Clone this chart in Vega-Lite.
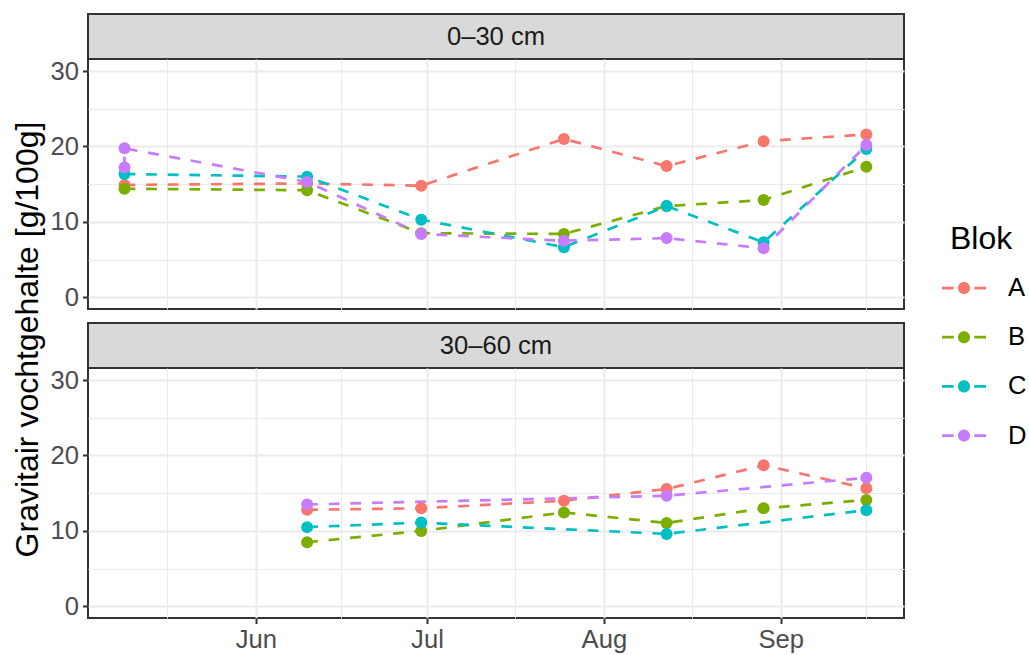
{
  "$schema": "https://vega.github.io/schema/vega-lite/v6.json",
  "background": "white",
  "padding": {"left": 10, "top": 13, "right": 5, "bottom": 0},
  "bounds": "flush",
  "spacing": 0,
  "config": {
    "font": "Liberation Sans",
    "view": {"stroke": "#333333", "strokeWidth": 2},
    "axis": {
      "domain": false,
      "gridColor": "#EBEBEB",
      "tickColor": "#333333",
      "tickWidth": 2,
      "tickSize": 5.5,
      "labelFont": "Liberation Sans",
      "labelFontSize": 25.6,
      "labelColor": "#4D4D4D",
      "labelPadding": 4,
      "titleFont": "Liberation Sans",
      "titleFontSize": 32,
      "titleFontWeight": "normal",
      "titleColor": "#000000"
    },
    "legend": {
      "titleFont": "Liberation Sans",
      "titleFontSize": 32,
      "titleFontWeight": "normal",
      "titleColor": "#000000",
      "labelFont": "Liberation Sans",
      "labelFontSize": 25.6,
      "labelColor": "#000000"
    }
  },
  "datasets": {
    "obs": [
      {"date": "2021-05-09", "depth": "0–30 cm", "blok": "A", "value": 14.9},
      {"date": "2021-06-10", "depth": "0–30 cm", "blok": "A", "value": 15.1},
      {"date": "2021-06-30", "depth": "0–30 cm", "blok": "A", "value": 14.8},
      {"date": "2021-07-25", "depth": "0–30 cm", "blok": "A", "value": 21.0},
      {"date": "2021-08-12", "depth": "0–30 cm", "blok": "A", "value": 17.4},
      {"date": "2021-08-29", "depth": "0–30 cm", "blok": "A", "value": 20.7},
      {"date": "2021-09-16", "depth": "0–30 cm", "blok": "A", "value": 21.6},
      {"date": "2021-05-09", "depth": "0–30 cm", "blok": "B", "value": 14.4},
      {"date": "2021-06-10", "depth": "0–30 cm", "blok": "B", "value": 14.2},
      {"date": "2021-06-30", "depth": "0–30 cm", "blok": "B", "value": 8.5},
      {"date": "2021-07-25", "depth": "0–30 cm", "blok": "B", "value": 8.4},
      {"date": "2021-08-12", "depth": "0–30 cm", "blok": "B", "value": 12.1},
      {"date": "2021-08-29", "depth": "0–30 cm", "blok": "B", "value": 12.9},
      {"date": "2021-09-16", "depth": "0–30 cm", "blok": "B", "value": 17.3},
      {"date": "2021-05-09", "depth": "0–30 cm", "blok": "C", "value": 16.35},
      {"date": "2021-06-10", "depth": "0–30 cm", "blok": "C", "value": 16.0},
      {"date": "2021-06-30", "depth": "0–30 cm", "blok": "C", "value": 10.3},
      {"date": "2021-07-25", "depth": "0–30 cm", "blok": "C", "value": 6.65},
      {"date": "2021-08-12", "depth": "0–30 cm", "blok": "C", "value": 12.1},
      {"date": "2021-08-29", "depth": "0–30 cm", "blok": "C", "value": 7.3},
      {"date": "2021-09-16", "depth": "0–30 cm", "blok": "C", "value": 19.65},
      {"date": "2021-05-09", "depth": "0–30 cm", "blok": "D", "value": 17.2},
      {"date": "2021-05-09", "depth": "0–30 cm", "blok": "D", "value": 19.75},
      {"date": "2021-06-10", "depth": "0–30 cm", "blok": "D", "value": 15.3},
      {"date": "2021-06-30", "depth": "0–30 cm", "blok": "D", "value": 8.4},
      {"date": "2021-07-25", "depth": "0–30 cm", "blok": "D", "value": 7.5},
      {"date": "2021-08-12", "depth": "0–30 cm", "blok": "D", "value": 7.85},
      {"date": "2021-08-29", "depth": "0–30 cm", "blok": "D", "value": 6.5},
      {"date": "2021-09-16", "depth": "0–30 cm", "blok": "D", "value": 20.2},
      {"date": "2021-06-10", "depth": "30–60 cm", "blok": "A", "value": 12.8},
      {"date": "2021-06-30", "depth": "30–60 cm", "blok": "A", "value": 13.0},
      {"date": "2021-07-25", "depth": "30–60 cm", "blok": "A", "value": 14.0},
      {"date": "2021-08-12", "depth": "30–60 cm", "blok": "A", "value": 15.55},
      {"date": "2021-08-29", "depth": "30–60 cm", "blok": "A", "value": 18.7},
      {"date": "2021-09-16", "depth": "30–60 cm", "blok": "A", "value": 15.65},
      {"date": "2021-06-10", "depth": "30–60 cm", "blok": "B", "value": 8.5},
      {"date": "2021-06-30", "depth": "30–60 cm", "blok": "B", "value": 10.0},
      {"date": "2021-07-25", "depth": "30–60 cm", "blok": "B", "value": 12.45},
      {"date": "2021-08-12", "depth": "30–60 cm", "blok": "B", "value": 11.05},
      {"date": "2021-08-29", "depth": "30–60 cm", "blok": "B", "value": 13.0},
      {"date": "2021-09-16", "depth": "30–60 cm", "blok": "B", "value": 14.1},
      {"date": "2021-06-10", "depth": "30–60 cm", "blok": "C", "value": 10.5},
      {"date": "2021-06-30", "depth": "30–60 cm", "blok": "C", "value": 11.1},
      {"date": "2021-08-12", "depth": "30–60 cm", "blok": "C", "value": 9.6},
      {"date": "2021-09-16", "depth": "30–60 cm", "blok": "C", "value": 12.75},
      {"date": "2021-06-10", "depth": "30–60 cm", "blok": "D", "value": 13.5},
      {"date": "2021-08-12", "depth": "30–60 cm", "blok": "D", "value": 14.65},
      {"date": "2021-09-16", "depth": "30–60 cm", "blok": "D", "value": 17.05}
    ]
  },
  "vconcat": [
    {
      "width": 816,
      "height": 45,
      "view": {"fill": "#D9D9D9", "stroke": "#333333", "strokeWidth": 2},
      "data": {"values": [{"depth": "0–30 cm"}]},
      "mark": {"type": "text", "font": "Liberation Sans", "fontSize": 25.6, "color": "#1A1A1A"},
      "encoding": {"text": {"field": "depth", "type": "nominal"}}
    },
    {
      "width": 816,
      "height": 250,
      "data": {"name": "obs"},
      "transform": [{"filter": "datum.depth === '0–30 cm'"}],
      "encoding": {
        "x": {
          "field": "date", "type": "temporal",
          "scale": {"type": "utc", "nice": false, "domain": [
            {"year": 2021, "month": 5, "date": 2, "hours": 14, "minutes": 24, "utc": true},
            {"year": 2021, "month": 9, "date": 22, "hours": 14, "minutes": 24, "utc": true}
          ]},
          "axis": {
            "title": null, "labels": false, "ticks": false,
            "values": [
              {"year": 2021, "month": 5, "date": 16, "hours": 12, "utc": true},
              {"year": 2021, "month": 6, "date": 1, "utc": true},
              {"year": 2021, "month": 6, "date": 16, "utc": true},
              {"year": 2021, "month": 7, "date": 1, "utc": true},
              {"year": 2021, "month": 7, "date": 16, "hours": 12, "utc": true},
              {"year": 2021, "month": 8, "date": 1, "utc": true},
              {"year": 2021, "month": 8, "date": 16, "hours": 12, "utc": true},
              {"year": 2021, "month": 9, "date": 1, "utc": true},
              {"year": 2021, "month": 9, "date": 16, "utc": true}
            ],
            "gridWidth": {"condition": {"test": "utcdate(datum.value) === 1 && utchours(datum.value) === 0", "value": 2}, "value": 1}
          }
        },
        "y": {
          "field": "value", "type": "quantitative",
          "scale": {"domain": [-1.55, 31.6], "nice": false, "zero": false},
          "axis": {
            "title": "Gravitair vochtgehalte [g/100g]",
            "titleY": 280,
            "titlePadding": 6,
            "values": [0, 5, 10, 15, 20, 25, 30],
            "labelExpr": "datum.value % 10 === 0 ? datum.label : ''",
            "tickOpacity": {"condition": {"test": "datum.value % 10 === 0", "value": 1}, "value": 0},
            "gridWidth": {"condition": {"test": "datum.value % 10 === 0", "value": 2}, "value": 1}
          }
        },
        "color": {
          "field": "blok", "type": "nominal",
          "scale": {"domain": ["A", "B", "C", "D"], "range": ["#F8766D", "#7CAE00", "#00BFC4", "#C77CFF"]},
          "legend": {
            "title": "Blok",
            "orient": "none", "legendX": 862, "legendY": 210,
            "symbolType": "M-1.6,-0.1H-0.75V0.1H-1.6Z M0.75,-0.1H1.6V0.1H0.75Z M-0.44,0A0.44,0.44,0,1,0,0.44,0A0.44,0.44,0,1,0,-0.44,0Z",
            "symbolSize": 756,
            "symbolStrokeWidth": 0,
            "symbolOpacity": 1,
            "rowPadding": 21.2,
            "titlePadding": 18,
            "labelOffset": 30
          }
        }
      },
      "layer": [
        {"mark": {"type": "line", "strokeWidth": 2.7, "strokeDash": [10.8, 10.8]}},
        {"mark": {"type": "point", "filled": true, "opacity": 1, "size": 144}}
      ]
    },
    {
      "width": 816,
      "height": 14,
      "view": {"stroke": null, "fill": null},
      "data": {"values": [{"t": ""}]},
      "mark": {"type": "text"},
      "encoding": {"text": {"field": "t", "type": "nominal"}}
    },
    {
      "width": 816,
      "height": 45,
      "view": {"fill": "#D9D9D9", "stroke": "#333333", "strokeWidth": 2},
      "data": {"values": [{"depth": "30–60 cm"}]},
      "mark": {"type": "text", "font": "Liberation Sans", "fontSize": 25.6, "color": "#1A1A1A"},
      "encoding": {"text": {"field": "depth", "type": "nominal"}}
    },
    {
      "width": 816,
      "height": 250,
      "data": {"name": "obs"},
      "transform": [{"filter": "datum.depth === '30–60 cm'"}],
      "encoding": {
        "x": {
          "field": "date", "type": "temporal",
          "scale": {"type": "utc", "nice": false, "domain": [
            {"year": 2021, "month": 5, "date": 2, "hours": 14, "minutes": 24, "utc": true},
            {"year": 2021, "month": 9, "date": 22, "hours": 14, "minutes": 24, "utc": true}
          ]},
          "axis": {
            "title": null,
            "values": [
              {"year": 2021, "month": 5, "date": 16, "hours": 12, "utc": true},
              {"year": 2021, "month": 6, "date": 1, "utc": true},
              {"year": 2021, "month": 6, "date": 16, "utc": true},
              {"year": 2021, "month": 7, "date": 1, "utc": true},
              {"year": 2021, "month": 7, "date": 16, "hours": 12, "utc": true},
              {"year": 2021, "month": 8, "date": 1, "utc": true},
              {"year": 2021, "month": 8, "date": 16, "hours": 12, "utc": true},
              {"year": 2021, "month": 9, "date": 1, "utc": true},
              {"year": 2021, "month": 9, "date": 16, "utc": true}
            ],
            "labelExpr": "utcdate(datum.value) === 1 && utchours(datum.value) === 0 ? utcFormat(datum.value, '%b') : ''",
            "tickOpacity": {"condition": {"test": "utcdate(datum.value) === 1 && utchours(datum.value) === 0", "value": 1}, "value": 0},
            "gridWidth": {"condition": {"test": "utcdate(datum.value) === 1 && utchours(datum.value) === 0", "value": 2}, "value": 1}
          }
        },
        "y": {
          "field": "value", "type": "quantitative",
          "scale": {"domain": [-1.55, 31.6], "nice": false, "zero": false},
          "axis": {
            "title": null,
            "values": [0, 5, 10, 15, 20, 25, 30],
            "labelExpr": "datum.value % 10 === 0 ? datum.label : ''",
            "tickOpacity": {"condition": {"test": "datum.value % 10 === 0", "value": 1}, "value": 0},
            "gridWidth": {"condition": {"test": "datum.value % 10 === 0", "value": 2}, "value": 1}
          }
        },
        "color": {
          "field": "blok", "type": "nominal",
          "scale": {"domain": ["A", "B", "C", "D"], "range": ["#F8766D", "#7CAE00", "#00BFC4", "#C77CFF"]},
          "legend": {
            "title": "Blok",
            "orient": "none", "legendX": 862, "legendY": 210,
            "symbolType": "M-1.6,-0.1H-0.75V0.1H-1.6Z M0.75,-0.1H1.6V0.1H0.75Z M-0.44,0A0.44,0.44,0,1,0,0.44,0A0.44,0.44,0,1,0,-0.44,0Z",
            "symbolSize": 756,
            "symbolStrokeWidth": 0,
            "symbolOpacity": 1,
            "rowPadding": 21.2,
            "titlePadding": 18,
            "labelOffset": 30
          }
        }
      },
      "layer": [
        {"mark": {"type": "line", "strokeWidth": 2.7, "strokeDash": [10.8, 10.8]}},
        {"mark": {"type": "point", "filled": true, "opacity": 1, "size": 144}}
      ]
    }
  ]
}
